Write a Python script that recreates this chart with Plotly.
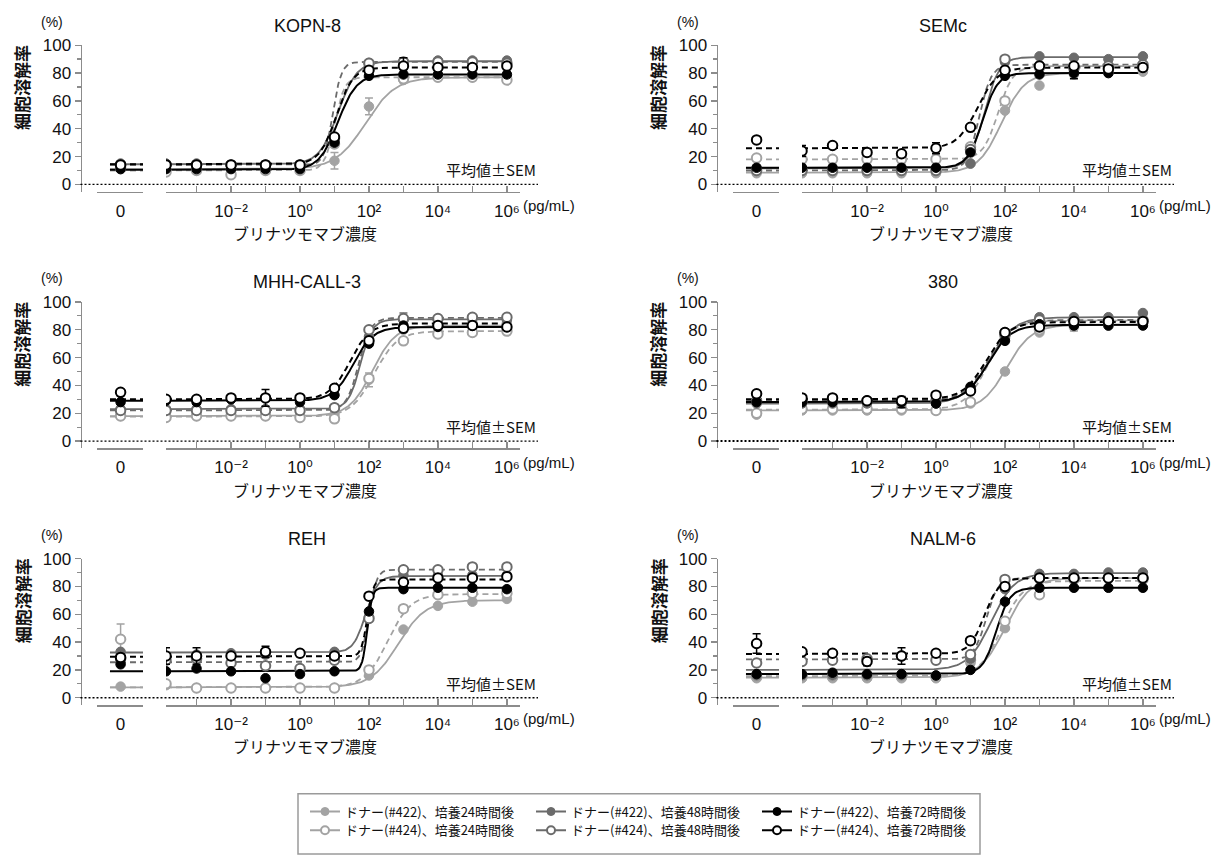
import numpy as np
import plotly.graph_objects as go

# ---------------- data ----------------
conc_log = [1.3e-4, 1e-3, 1e-2, 1e-1, 1, 10, 100, 1e3, 1e4, 1e5, 1e6]
conc_zero = [0]
log_label_vals = [1e-2, 1, 1e2, 1e4, 1e6]
log_label_text = ["10⁻²", "10⁰", "10²", "10⁴", "10⁶"]
log_minor_vals = [1.3e-4, 1e-3, 1e-1, 10, 1e3, 1e5]
y_ticks = [0, 20, 40, 60, 80, 100]
y_minor_ticks = [10, 30, 50, 70, 90]

panel_titles = ["KOPN-8", "SEMc", "MHH-CALL-3", "380", "REH", "NALM-6"]

series_labels = ["ドナー(#422)、培養24時間後", "ドナー(#422)、培養48時間後", "ドナー(#422)、培養72時間後",
                 "ドナー(#424)、培養24時間後", "ドナー(#424)、培養48時間後", "ドナー(#424)、培養72時間後"]
series_colors = ["#a3a3a3", "#6b6b6b", "#000000", "#a3a3a3", "#6b6b6b", "#000000"]
series_open = [False, False, False, True, True, True]
series_dash = ["solid", "solid", "solid", "6px,4px", "6px,4px", "6px,4px"]

# values: first = concentration 0, then conc_log order
# series order: 422-24h, 422-48h, 422-72h, 424-24h, 424-48h, 424-72h
kopn8_values = [
    [11, 10, 11, 11, 11, 11, 17, 56, 75, 77, 77, 77],
    [15, 15, 15, 14, 14, 14, 31, 85, 88, 89, 89, 89],
    [11, 11, 11, 11, 11, 11, 30, 78, 79, 79, 79, 79],
    [12, 9, 10, 7, 10, 10, 29, 87, 76, 77, 77, 75],
    [14, 14, 14, 14, 14, 14, 33, 87, 88, 88, 88, 87],
    [14, 14, 14, 14, 14, 14, 34, 82, 85, 84, 84, 85],
]
kopn8_sem = [
    [0, 0, 0, 0, 0, 0, 6, 6, 2, 0, 0, 0],
    [0, 0, 0, 0, 0, 0, 0, 0, 0, 0, 0, 0],
    [0, 0, 0, 0, 0, 0, 0, 0, 0, 0, 0, 0],
    [0, 0, 0, 0, 0, 0, 0, 0, 0, 0, 0, 0],
    [0, 0, 0, 0, 0, 0, 0, 0, 0, 0, 0, 0],
    [0, 0, 0, 0, 0, 0, 0, 0, 6, 0, 0, 0],
]
kopn8_fit = [  # bottom, top, logEC50, hill
    [11, 77, 1.9, 1.0],
    [14.5, 88.5, 1.1, 1.6],
    [10.5, 79, 1.1, 1.6],
    [10, 77, 1.0, 3.0],
    [14, 88, 0.95, 3.5],
    [14.5, 84, 1.05, 1.8],
]

semc_values = [
    [8, 8, 8, 8, 8, 8, 15, 53, 71, 79, 80, 81],
    [11, 11, 11, 11, 11, 11, 15, 88, 92, 91, 90, 92],
    [12, 12, 12, 12, 12, 12, 23, 78, 79, 80, 80, 84],
    [19, 18, 18, 18, 18, 18, 27, 60, 84, 83, 84, 86],
    [10, 10, 10, 10, 10, 10, 25, 90, 85, 84, 85, 86],
    [32, 24, 28, 23, 22, 26, 41, 82, 85, 85, 83, 84],
]
semc_sem = [
    [0, 0, 0, 0, 0, 0, 0, 0, 0, 0, 0, 0],
    [0, 0, 0, 0, 0, 0, 0, 0, 0, 0, 0, 0],
    [0, 0, 0, 0, 0, 0, 0, 0, 0, 4, 0, 0],
    [0, 0, 0, 0, 0, 0, 0, 0, 0, 0, 0, 0],
    [0, 0, 0, 0, 0, 0, 0, 0, 0, 0, 0, 0],
    [0, 4, 0, 0, 0, 4, 0, 0, 0, 0, 0, 0],
]
semc_fit = [
    [8.5, 80, 1.9, 1.3],
    [11.5, 91.5, 1.4, 2.0],
    [12, 80, 1.35, 2.0],
    [18, 85, 1.8, 2.0],
    [10, 86, 1.25, 2.5],
    [26, 84, 1.2, 1.5],
]

mhh_values = [
    [18, 18, 18, 18, 18, 18, 19, 44, 80, 83, 85, 84],
    [23, 23, 23, 23, 23, 23, 24, 75, 87, 87, 88, 87],
    [28, 29, 28, 30, 31, 28, 33, 70, 83, 82, 83, 82],
    [18, 17, 18, 18, 18, 17, 16, 45, 72, 77, 78, 79],
    [22, 22, 22, 22, 22, 22, 24, 80, 88, 88, 89, 89],
    [35, 30, 30, 31, 31, 31, 38, 72, 81, 83, 83, 82],
]
mhh_sem = [
    [0, 0, 0, 0, 0, 0, 0, 5, 0, 0, 0, 0],
    [0, 0, 0, 0, 0, 0, 0, 0, 0, 0, 0, 0],
    [0, 0, 0, 0, 6, 0, 0, 0, 0, 0, 0, 0],
    [0, 0, 0, 0, 0, 0, 0, 0, 0, 0, 0, 0],
    [0, 0, 0, 0, 0, 0, 0, 0, 4, 0, 0, 0],
    [0, 0, 0, 0, 0, 0, 0, 0, 0, 0, 0, 0],
]
mhh_fit = [
    [18, 83, 2.1, 1.3],
    [23, 87.5, 1.75, 2.5],
    [29, 82, 1.55, 1.5],
    [17.5, 79, 2.15, 1.3],
    [22, 88.5, 1.7, 2.5],
    [30, 84.5, 1.45, 1.5],
]

c380_values = [
    [19, 22, 22, 22, 22, 22, 27, 50, 78, 82, 83, 84],
    [27, 27, 27, 27, 27, 27, 38, 74, 89, 89, 89, 92],
    [28, 28, 28, 29, 28, 27, 39, 72, 84, 83, 83, 83],
    [20, 23, 23, 23, 23, 22, 28, 78, 80, 86, 86, 86],
    [29, 29, 29, 29, 29, 29, 37, 76, 87, 87, 87, 87],
    [34, 31, 31, 29, 29, 33, 36, 78, 82, 86, 86, 86],
]
c380_sem = [
    [0, 0, 0, 0, 0, 0, 0, 0, 0, 3, 0, 0],
    [0, 0, 0, 0, 0, 0, 0, 0, 0, 0, 0, 0],
    [0, 0, 0, 0, 4, 0, 0, 0, 0, 0, 0, 0],
    [0, 0, 0, 0, 0, 0, 0, 0, 0, 0, 0, 0],
    [0, 0, 0, 0, 0, 0, 0, 0, 0, 0, 0, 0],
    [0, 0, 0, 0, 0, 0, 0, 0, 0, 0, 0, 0],
]
c380_fit = [
    [22, 83.5, 2.05, 1.2],
    [27, 89, 1.55, 1.2],
    [28, 83.5, 1.5, 1.3],
    [22.5, 86.5, 1.5, 1.3],
    [29, 87, 1.5, 1.3],
    [30, 85.5, 1.45, 1.3],
]

reh_values = [
    [8, 9, 7, 7, 7, 7, 7, 16, 49, 66, 69, 71],
    [33, 30, 31, 32, 31, 32, 33, 58, 88, 88, 88, 88],
    [24, 19, 21, 19, 14, 17, 19, 62, 78, 79, 79, 78],
    [42, 10, 7, 7, 7, 7, 7, 20, 64, 74, 75, 75],
    [28, 27, 28, 25, 23, 21, 27, 57, 92, 92, 94, 94],
    [29, 30, 30, 30, 33, 32, 30, 73, 83, 86, 86, 87],
]
reh_sem = [
    [0, 0, 0, 0, 0, 0, 0, 0, 0, 0, 0, 0],
    [0, 0, 0, 0, 0, 0, 0, 0, 0, 0, 0, 0],
    [0, 0, 0, 0, 0, 0, 0, 0, 0, 0, 0, 0],
    [11, 0, 0, 0, 0, 0, 0, 0, 0, 0, 0, 0],
    [0, 0, 0, 0, 0, 0, 0, 0, 0, 0, 0, 0],
    [0, 6, 6, 0, 4, 0, 0, 0, 0, 0, 0, 0],
]
reh_fit = [
    [7.5, 70, 2.85, 1.1],
    [32.5, 87.5, 1.9, 2.5],
    [19, 79, 1.95, 6.0],
    [7.5, 74.5, 2.55, 1.3],
    [25.5, 92, 2.0, 4.0],
    [29.5, 85, 1.95, 5.0],
]

nalm6_values = [
    [14, 14, 14, 14, 14, 14, 25, 50, 85, 86, 86, 86],
    [16, 16, 16, 16, 16, 16, 28, 78, 89, 89, 90, 90],
    [17, 17, 18, 17, 17, 16, 20, 69, 79, 79, 79, 79],
    [15, 15, 15, 15, 15, 15, 27, 55, 74, 85, 86, 85],
    [25, 26, 27, 28, 30, 27, 31, 85, 86, 86, 86, 86],
    [39, 33, 32, 26, 30, 32, 41, 80, 86, 86, 86, 86],
]
nalm6_sem = [
    [0, 0, 0, 0, 0, 0, 0, 0, 0, 0, 0, 0],
    [0, 0, 0, 0, 0, 0, 0, 0, 0, 0, 0, 0],
    [0, 0, 0, 0, 0, 0, 0, 0, 0, 0, 0, 0],
    [0, 0, 0, 0, 0, 0, 0, 0, 0, 0, 0, 0],
    [0, 0, 0, 0, 0, 0, 0, 0, 0, 0, 0, 0],
    [7, 0, 0, 3, 6, 0, 0, 0, 0, 0, 0, 0],
]
nalm6_fit = [
    [14.5, 86, 2.0, 1.2],
    [20, 89.5, 1.6, 1.3],
    [17, 79, 1.75, 2.2],
    [15.5, 84, 1.9, 1.4],
    [27.5, 86, 1.45, 2.5],
    [31.5, 86, 1.4, 2.0],
]

panel_values = [kopn8_values, semc_values, mhh_values, c380_values, reh_values, nalm6_values]
panel_sem = [kopn8_sem, semc_sem, mhh_sem, c380_sem, reh_sem, nalm6_sem]
panel_fit = [kopn8_fit, semc_fit, mhh_fit, c380_fit, reh_fit, nalm6_fit]

# ---------------- geometry (pixels) ----------------
W, H = 1230, 857
def px(x):
    return x / W
def py(y):
    return 1 - y / H

COL_DX = [0, 636]
ROW_DY = [0, 260, 520]
Y_AXIS_X = 80.5
ZERO_DOM = (97, 143)
LOG_DOM = (166, 520)
Y_TOP_PX = 36.7
Y_ZERO_PX = 177.7
Y_MIN = -5.3
PX_PER_UNIT = (Y_ZERO_PX - Y_TOP_PX) / 100.0
Y_BOT_PX = Y_ZERO_PX - Y_MIN * PX_PER_UNIT
ZERO_RANGE = [-1.0, 0.95]
ZERO_LINE_X = [-0.45, 0.95]
LOG_RANGE = [np.log10(conc_log[0]), 6.38]

AXIS_GRAY = "#8c8c8c"
LATIN = "Liberation Sans, Arial, Helvetica, DejaVu Sans, sans-serif"
CJK = "Noto Sans CJK JP, sans-serif"

fig = go.Figure()
layout = {}
annotations = []
shapes = []

fit_x = np.logspace(np.log10(conc_log[0]), np.log10(conc_log[-1]), 300)

for i in range(6):
    r, c = divmod(i, 2)
    dx, dy = COL_DX[c], ROW_DY[r]
    xz_name = "x" if i == 0 else f"x{2*i+1}"
    xl_name = f"x{2*i+2}"
    y_name = "y" if i == 0 else f"y{i+1}"
    xz_key = "xaxis" if i == 0 else f"xaxis{2*i+1}"
    xl_key = f"xaxis{2*i+2}"
    y_key = "yaxis" if i == 0 else f"yaxis{i+1}"

    layout[y_key] = dict(
        domain=[py(Y_BOT_PX + dy), py(Y_TOP_PX + dy)], range=[Y_MIN, 100],
        anchor="free", position=px(Y_AXIS_X + dx),
        tickmode="array", tickvals=y_ticks, ticks="outside", ticklen=6, tickwidth=1.3,
        tickcolor=AXIS_GRAY, showline=True, linecolor=AXIS_GRAY, linewidth=1.5,
        showgrid=False, zeroline=False,
        minor=dict(tickmode="array", tickvals=y_minor_ticks, ticks="outside", ticklen=4,
                   tickwidth=1.3, tickcolor=AXIS_GRAY, showgrid=False),
        tickfont=dict(family=LATIN, size=17, color="#111"), fixedrange=True,
    )
    layout[xz_key] = dict(
        domain=[px(ZERO_DOM[0] + dx), px(ZERO_DOM[1] + dx)], range=ZERO_RANGE,
        anchor=y_name, tickmode="array", tickvals=conc_zero, ticktext=["0"],
        ticks="inside", ticklen=0, tickcolor=AXIS_GRAY,
        minor=dict(tickmode="array", tickvals=[ZERO_RANGE[1]], ticks="inside", ticklen=6,
                   tickwidth=1.3, tickcolor=AXIS_GRAY, showgrid=False),
        showline=True, linecolor=AXIS_GRAY, linewidth=1.5, showgrid=False, zeroline=False,
        tickfont=dict(family=LATIN, size=17, color="#111"), ticklabelstandoff=3, fixedrange=True,
    )
    layout[xl_key] = dict(
        type="log", domain=[px(LOG_DOM[0] + dx), px(LOG_DOM[1] + dx)], range=LOG_RANGE,
        anchor=y_name, tickmode="array", tickvals=log_label_vals, ticktext=log_label_text,
        ticks="inside", ticklen=6, tickwidth=1.3, tickcolor=AXIS_GRAY,
        minor=dict(tickmode="array", tickvals=log_minor_vals, ticks="inside", ticklen=6,
                   tickwidth=1.3, tickcolor=AXIS_GRAY, showgrid=False),
        showline=True, linecolor=AXIS_GRAY, linewidth=1.5, showgrid=False, zeroline=False,
        tickfont=dict(family=LATIN, size=17, color="#111"), ticklabelstandoff=3, fixedrange=True,
    )

    # dotted zero reference line
    shapes.append(dict(type="line", xref="paper", yref=y_name,
                       x0=px(Y_AXIS_X + dx), x1=px(538 + dx), y0=0, y1=0,
                       line=dict(color="#000", width=2.0 if i == 3 else 1.3, dash="2px,2px")))

    vals = panel_values[i]
    sems = panel_sem[i]
    fits = panel_fit[i]
    draw_order = [0, 3, 1, 4, 2, 5]
    # curves
    for s in draw_order:
        b, t, lec, h = fits[s]
        fit_y = b + (t - b) / (1 + 10 ** ((lec - np.log10(fit_x)) * h))
        lw = 2.0 if series_colors[s] == "#000000" else 1.8
        fig.add_trace(go.Scatter(x=fit_x, y=fit_y, mode="lines", xaxis=xl_name, yaxis=y_name,
                                 line=dict(color=series_colors[s], width=lw, dash=series_dash[s]),
                                 showlegend=False, hoverinfo="skip"))
        fig.add_trace(go.Scatter(x=ZERO_LINE_X, y=[b, b], mode="lines", xaxis=xz_name, yaxis=y_name,
                                 line=dict(color=series_colors[s], width=lw, dash=series_dash[s]),
                                 showlegend=False, hoverinfo="skip"))
    # points
    for s in draw_order:
        col = series_colors[s]
        mk = dict(size=9.5, color="white" if series_open[s] else col,
                  line=dict(color=col, width=2.0 if series_open[s] else 1))
        err = [e if e > 0 else None for e in sems[s]]
        fig.add_trace(go.Scatter(x=conc_zero, y=vals[s][:1], mode="markers", xaxis=xz_name, yaxis=y_name,
                                 marker=mk, showlegend=False, hoverinfo="skip",
                                 error_y=dict(type="data", array=err[:1], color=col, thickness=1.5, width=4)))
        fig.add_trace(go.Scatter(x=conc_log, y=vals[s][1:], mode="markers", xaxis=xl_name, yaxis=y_name,
                                 marker=mk, showlegend=False, hoverinfo="skip",
                                 error_y=dict(type="data", array=err[1:], color=col, thickness=1.5, width=4)))

    # texts
    annotations.append(dict(text=panel_titles[i], xref="paper", yref="paper",
                            x=px(307 + dx), y=py(17 + dy), xanchor="center", yanchor="middle",
                            showarrow=False, font=dict(family=LATIN, size=18, color="#111")))
    annotations.append(dict(text="(%)", xref="paper", yref="paper",
                            x=px(52 + dx), y=py(13 + dy), xanchor="center", yanchor="middle",
                            showarrow=False, font=dict(family=LATIN, size=14, color="#111")))
    annotations.append(dict(text="<b>細胞溶解率</b>", xref="paper", yref="paper", textangle=-90,
                            x=px(22 + dx), y=py(80 + dy), xanchor="center", yanchor="middle",
                            showarrow=False, font=dict(family=CJK, size=17, color="#111")))
    annotations.append(dict(text="ブリナツモマブ濃度", xref="paper", yref="paper",
                            x=px(305 + dx), y=py(227 + dy), xanchor="center", yanchor="middle",
                            showarrow=False, font=dict(family=CJK, size=16, color="#111")))
    annotations.append(dict(text="(pg/mL)", xref="paper", yref="paper",
                            x=px(521 + dx), y=py(199 + dy), xanchor="left", yanchor="middle",
                            showarrow=False, font=dict(family=LATIN, size=15, color="#111")))
    annotations.append(dict(text="平均値±SEM", xref="paper", yref=y_name,
                            x=px(538 + dx), y=10.5, xanchor="right", yanchor="middle",
                            showarrow=False, font=dict(family=CJK, size=15, color="#111")))

# legend entries (symbols only; no data drawn)
for s in range(6):
    col = series_colors[s]
    fig.add_trace(go.Scatter(x=[None], y=[None], mode="lines+markers", name=series_labels[s],
                             xaxis="x", yaxis="y", legend="legend" if s < 3 else "legend2",
                             line=dict(color=col, width=2),
                             marker=dict(size=8, color="white" if series_open[s] else col,
                                         line=dict(color=col, width=2 if series_open[s] else 1)),
                             showlegend=True, hoverinfo="skip"))

legend_common = dict(orientation="h", xanchor="left", yanchor="middle", entrywidth=181,
                     entrywidthmode="pixels", itemwidth=30, bgcolor="rgba(0,0,0,0)", borderwidth=0,
                     font=dict(family=CJK, size=13, color="#111"), itemclick=False, itemdoubleclick=False)
layout["legend"] = dict(legend_common, x=px(305), y=py(813))
layout["legend2"] = dict(legend_common, x=px(305), y=py(832))

shapes.append(dict(type="rect", xref="paper", yref="paper", x0=px(298), x1=px(980),
                   y0=py(856), y1=py(795), line=dict(color="#9a9a9a", width=1.5)))

fig.update_layout(width=W, height=H, margin=dict(l=0, r=0, t=0, b=0),
                  paper_bgcolor="white", plot_bgcolor="white", hovermode=False,
                  annotations=annotations, shapes=shapes, **layout)

fig.write_html("out.html", config={"displayModeBar": False, "staticPlot": True},
               post_script="document.body.style.margin='0px';document.body.style.overflow='hidden';")
